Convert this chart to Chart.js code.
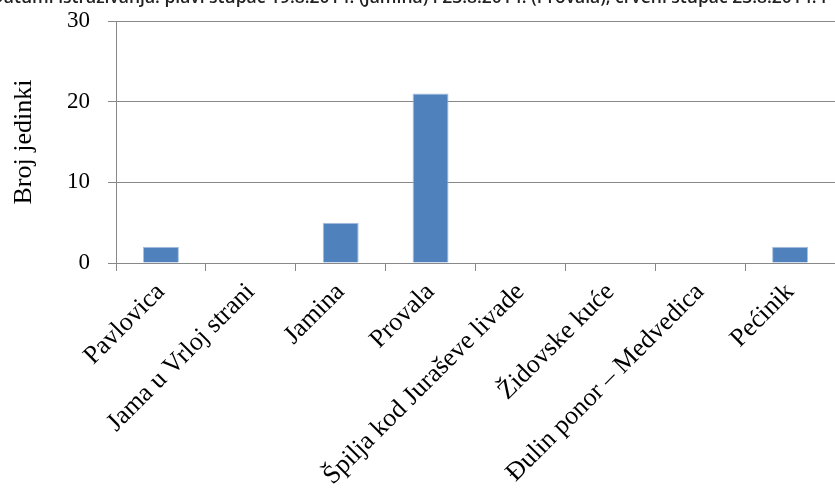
<!DOCTYPE html>
<html>
<head>
<meta charset="utf-8">
<script src="https://cdn.jsdelivr.net/npm/chart.js@4/dist/chart.umd.min.js"></script>
<style>
  html, body { margin: 0; padding: 0; background: #fff; overflow: hidden; }
  #wrap { position: relative; width: 835px; height: 494px; }
  #caption {
    position: absolute; top: -16px; left: -9px; white-space: nowrap;
    font: 600 17.5px 'Open Sans', sans-serif; color: #222;
  }
</style>
</head>
<body>
<div id="wrap">
  <canvas id="chart" width="835" height="494"></canvas>
  <div id="caption">Datumi istraživanja: plavi stupac 19.8.2014. (Jamina) i 23.8.2014. (Provala), crveni stupac 23.8.2014. i</div>
</div>
<script>
// categories and counts
const caves = [
  'Pavlovica',
  'Jama u Vrloj strani',
  'Jamina',
  'Provala',
  'Špilja kod Juraševe livade',
  'Židovske kuće',
  'Đulin ponor – Medvedica',
  'Pećinik'
];
const counts = [2, 0, 5, 21, 0, 0, 0, 2];
const yTicks = [0, 10, 20, 30];

const gridGray = '#888888';
const serif = "'Liberation Serif', 'Times New Roman', Times, serif";

new Chart(document.getElementById('chart'), {
  type: 'bar',
  data: {
    labels: caves,
    datasets: [{
      label: 'Broj jedinki',
      data: counts,
      backgroundColor: '#4f81bd',
      borderColor: '#a9c1df',
      borderWidth: 1,
      barPercentage: 0.4,
      categoryPercentage: 1
    }]
  },
  options: {
    responsive: false,
    animation: false,
    layout: { padding: 0 },
    plugins: { legend: { display: false }, tooltip: { enabled: false } },
    scales: {
      x: {
        grid: { offset: true, drawOnChartArea: false, color: gridGray, tickLength: 8 },
        border: { color: gridGray },
        ticks: {
          color: '#000',
          font: { family: serif, size: 26 },
          minRotation: 45, maxRotation: 45, padding: 6
        },
        afterFit: (axis) => { axis.height = 231; }
      },
      y: {
        min: 0, max: 30,
        afterBuildTicks: (axis) => { axis.ticks = yTicks.map((v) => ({ value: v })); },
        grid: { color: gridGray, tickLength: 8 },
        border: { color: gridGray },
        ticks: {
          color: '#000',
          font: { family: serif, size: 23 },
          padding: 18
        },
        title: {
          display: true,
          text: 'Broj jedinki',
          color: '#000',
          font: { family: serif, size: 26 },
          padding: { top: 9, bottom: 0 }
        },
        afterFit: (axis) => {
          axis.width = 116;
          axis.paddingTop = 21;
          axis.paddingBottom = 0;
        }
      }
    }
  }
});
</script>
</body>
</html>
